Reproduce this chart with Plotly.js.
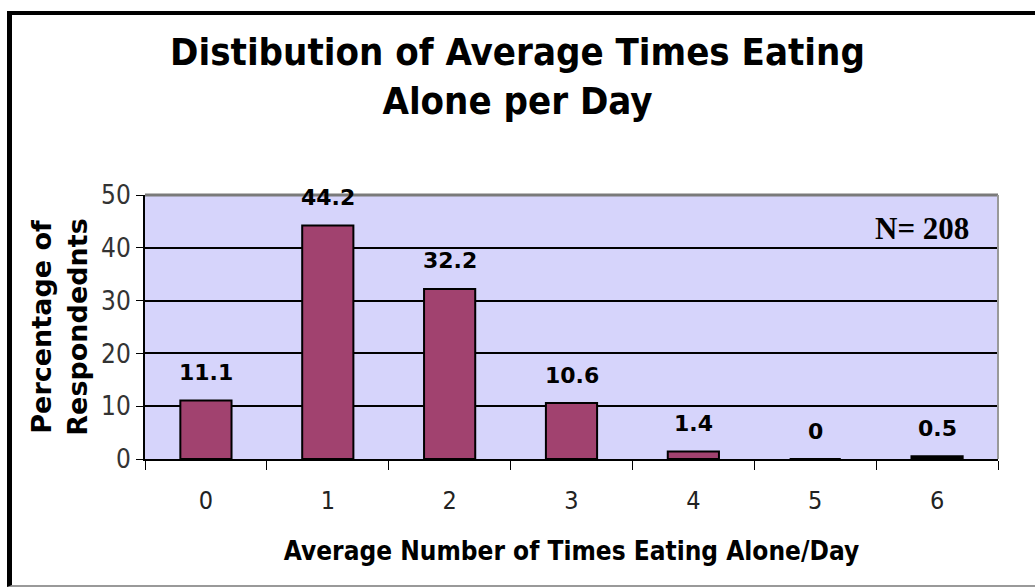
<!DOCTYPE html>
<html>
<head>
<meta charset="utf-8">
<script src="https://cdn.plot.ly/plotly-3.0.1.min.js"></script>
<style>
  html, body { margin: 0; padding: 0; background: #fff; }
  #wrap { position: relative; width: 1035px; height: 587px; }
  #chart { width: 1035px; height: 587px; }
  #frame { position: absolute; left: 7px; top: 11px; width: 1028px; height: 576px;
           border-left: 5px solid #000; border-top: 4px solid #000; border-bottom: 2px solid #999;
           box-sizing: border-box; pointer-events: none; }
</style>
</head>
<body>
<div id="wrap">
  <div id="chart"></div>
  <div id="frame"></div>
</div>
<script>
const categories = ['0', '1', '2', '3', '4', '5', '6'];
const percentages = [11.1, 44.2, 32.2, 10.6, 1.4, 0, 0.5];
const valueLabels = ['11.1', '44.2', '32.2', '10.6', '1.4', '0', '0.5'];
const yTicks = [0, 10, 20, 30, 40, 50];
const sampleNote = 'N= 208';

const condensed = '"DejaVu Sans Condensed", "Liberation Sans Narrow", "Roboto Condensed", "DejaVu Sans", sans-serif';
const barColors = categories.map((c, i) => i === categories.length - 1 ? '#000000' : '#a1426f');

const trace = {
  type: 'bar',
  x: categories,
  y: percentages,
  width: 0.42,
  marker: { color: barColors, line: { color: '#000', width: 2 } },
  hoverinfo: 'x+y'
};

const labelAnnotations = categories.map((c, i) => ({
  x: c, y: percentages[i], xref: 'x', yref: 'y',
  text: valueLabels[i], showarrow: false,
  yanchor: 'middle', yshift: 28,
  font: { family: '"DejaVu Sans", Verdana, sans-serif', size: 22, color: '#000', weight: 'bold' }
}));

const layout = {
  width: 1035, height: 587,
  margin: { l: 145, r: 37, t: 195, b: 128 },
  paper_bgcolor: '#ffffff',
  plot_bgcolor: '#d6d4fb',
  showlegend: false,
  bargap: 0.58,
  title: {
    text: 'Distibution of Average Times Eating<br>Alone per Day',
    font: { family: condensed, size: 38, color: '#000', weight: 'bold' },
    x: 0.5, xanchor: 'center', y: 0.89, yanchor: 'top'
  },
  xaxis: {
    type: 'category',
    tickson: 'boundaries',
    ticks: 'outside', ticklen: 9, tickwidth: 1, tickcolor: '#000',
    ticklabelstandoff: 18,
    showline: true, linecolor: '#000', linewidth: 2,
    showgrid: false,
    tickfont: { family: condensed, size: 25, color: '#222' },
    title: { text: 'Average Number of Times Eating Alone/Day', standoff: 28,
             font: { family: condensed, size: 26, color: '#000', weight: 'bold' } }
  },
  yaxis: {
    range: [0, 50],
    tickvals: yTicks,
    ticks: 'outside', ticklen: 7, tickwidth: 1, tickcolor: '#000',
    showline: true, linecolor: '#000', linewidth: 2,
    showgrid: true, gridcolor: '#000', gridwidth: 2,
    zeroline: false,
    tickfont: { family: condensed, size: 26, color: '#333' },
    title: { text: 'Percentage of<br>Respondednts', standoff: 6,
             font: { family: '"DejaVu Sans", Verdana, sans-serif', size: 27, color: '#000', weight: 'bold' } }
  },
  shapes: [
    { type: 'line', xref: 'paper', yref: 'paper', x0: 0, x1: 1, y0: 1, y1: 1, line: { color: '#7a7a7a', width: 3 } },
    { type: 'line', xref: 'paper', yref: 'paper', x0: 1, x1: 1, y0: 0, y1: 1, line: { color: '#999', width: 2 } }
  ],
  annotations: labelAnnotations.concat([{
    xref: 'paper', yref: 'paper', x: 0.968, y: 0.875, xanchor: 'right', yanchor: 'middle',
    text: sampleNote, showarrow: false,
    font: { family: '"Liberation Serif", "Times New Roman", serif', size: 31, color: '#000', weight: 'bold' }
  }])
};

Plotly.newPlot('chart', [trace], layout, { displayModeBar: false, staticPlot: true });
</script>
</body>
</html>
